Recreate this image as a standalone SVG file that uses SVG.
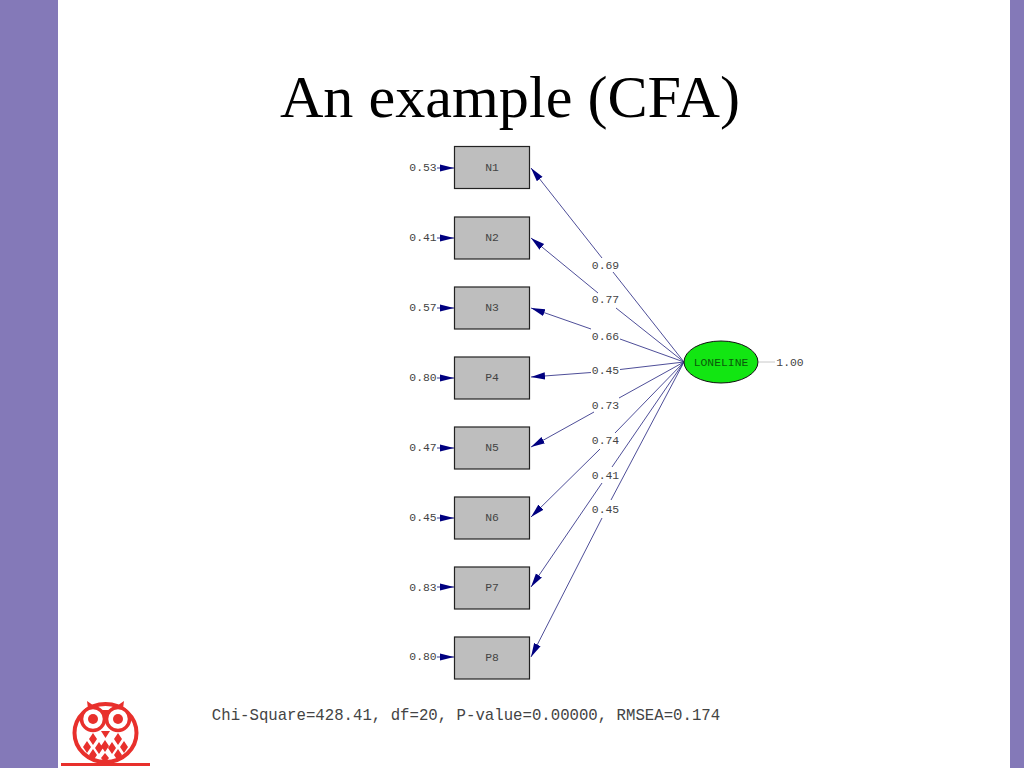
<svg xmlns="http://www.w3.org/2000/svg" width="1024" height="768" viewBox="0 0 1024 768">
<style>
.box{fill:#bebebe;stroke:#222;stroke-width:1.2}
.m{font-family:"Liberation Mono","DejaVu Sans Mono",monospace;font-size:11.4px;fill:#444;text-anchor:middle}
.c{fill:none;stroke:#3a3a8c;stroke-width:.9}
.e{fill:none;stroke:#3a3a8c;stroke-width:1}
.o{fill:none;stroke:#e8302c;stroke-width:4}
.r{fill:#e8302c}
</style>
<defs>
<marker id="a" markerUnits="userSpaceOnUse" markerWidth="15" markerHeight="10" refX="14" refY="5" orient="auto"><path d="M0 1.400L14 5L0 8.600Z" fill="#000080"/></marker>
</defs>
<rect width="1024" height="768" fill="#fff"/>
<rect id="bar-left" width="58" height="768" fill="#8479b8"/>
<rect id="bar-right" x="1010" width="14" height="768" fill="#8479b8"/>
<text id="title" x="510" y="117" text-anchor="middle" font-family="Liberation Serif,serif" font-size="60.200" fill="#000">An example (CFA)</text>
<g id="connectors">
<path class="c" d="M684 362L613 272"/><path class="c" d="M602 258L531 168" marker-end="url(#a)"/>
<path class="c" d="M684 362L616 308"/><path class="c" d="M598 293L531 238" marker-end="url(#a)"/>
<path class="c" d="M684 362L620 339"/><path class="c" d="M591 329L531 308" marker-end="url(#a)"/>
<path class="c" d="M684 362L620 369.500"/><path class="c" d="M591 372.500L531 377" marker-end="url(#a)"/>
<path class="c" d="M684 362L619 398"/><path class="c" d="M594 412L531 447" marker-end="url(#a)"/>
<path class="c" d="M684 362L615 433"/><path class="c" d="M600 449L531 517" marker-end="url(#a)"/>
<path class="c" d="M684 362L612 467"/><path class="c" d="M602 483L531 587" marker-end="url(#a)"/>
<path class="c" d="M684 362L611 500"/><path class="c" d="M602 518L531 657" marker-end="url(#a)"/>
<path class="e" d="M437 168H454" marker-end="url(#a)"/>
<path class="e" d="M437 238H454" marker-end="url(#a)"/>
<path class="e" d="M437 308H454" marker-end="url(#a)"/>
<path class="e" d="M437 378H454" marker-end="url(#a)"/>
<path class="e" d="M437 448H454" marker-end="url(#a)"/>
<path class="e" d="M437 518H454" marker-end="url(#a)"/>
<path class="e" d="M437 587H454" marker-end="url(#a)"/>
<path class="e" d="M437 657H454" marker-end="url(#a)"/>
<path d="M759 362H775" stroke="#c8c8c8" stroke-width="1" fill="none"/>
</g>
<g id="node-n1"><rect class="box" x="454.500" y="146.500" width="75" height="42"/><text class="m" x="492" y="171">N1</text><text class="m" x="423" y="171">0.53</text></g>
<g id="node-n2"><rect class="box" x="454.500" y="217" width="75" height="42"/><text class="m" x="492" y="241">N2</text><text class="m" x="423" y="241">0.41</text></g>
<g id="node-n3"><rect class="box" x="454.500" y="287" width="75" height="42"/><text class="m" x="492" y="311">N3</text><text class="m" x="423" y="311">0.57</text></g>
<g id="node-p4"><rect class="box" x="454.500" y="357" width="75" height="42"/><text class="m" x="492" y="381">P4</text><text class="m" x="423" y="381">0.80</text></g>
<g id="node-n5"><rect class="box" x="454.500" y="427" width="75" height="42"/><text class="m" x="492" y="451">N5</text><text class="m" x="423" y="451">0.47</text></g>
<g id="node-n6"><rect class="box" x="454.500" y="497" width="75" height="42"/><text class="m" x="492" y="521">N6</text><text class="m" x="423" y="521">0.45</text></g>
<g id="node-p7"><rect class="box" x="454.500" y="567" width="75" height="42"/><text class="m" x="492" y="591">P7</text><text class="m" x="423" y="591">0.83</text></g>
<g id="node-p8"><rect class="box" x="454.500" y="637" width="75" height="42"/><text class="m" x="492" y="661">P8</text><text class="m" x="423" y="660">0.80</text></g>
<g id="node-loneline"><ellipse cx="721" cy="362" rx="37" ry="21" fill="#12e612" stroke="#111" stroke-width="1"/><text class="m" x="721" y="365.500" style="fill:#0a5a0a">LONELINE</text><text class="m" x="790" y="366">1.00</text></g>
<g id="loadings">
<text class="m" x="605.500" y="269">0.69</text>
<text class="m" x="605.500" y="303">0.77</text>
<text class="m" x="605.500" y="340">0.66</text>
<text class="m" x="605.500" y="374">0.45</text>
<text class="m" x="605.500" y="409">0.73</text>
<text class="m" x="605.500" y="444">0.74</text>
<text class="m" x="605.500" y="479">0.41</text>
<text class="m" x="605.500" y="513">0.45</text>
</g>
<text id="fit" x="466" y="720" text-anchor="middle" font-family="Liberation Mono,monospace" font-size="15.700" fill="#444">Chi-Square=428.41, df=20, P-value=0.00000, RMSEA=0.174</text>
<g id="owl">
<path class="r" d="M61 763H150V766H61Z"/>
<ellipse class="o" cx="105.500" cy="733" rx="31" ry="29"/>
<path class="r" d="M87 701L100 710H111L124 701L122 716H89Z"/>
<circle cx="93" cy="719" r="11.500" fill="#fff" stroke="#e8302c" stroke-width="3.500"/>
<circle cx="118" cy="719" r="11.500" fill="#fff" stroke="#e8302c" stroke-width="3.500"/>
<circle class="r" cx="93" cy="719" r="5"/><circle class="r" cx="118" cy="719" r="5"/>
<path class="r" d="M101 731L105.500 738L110 731Z"/>
<path class="r" d="M93 733l4 6l-4 6l-4-6ZM105 740l4 6l-4 6l-4-6ZM118 733l4 6l-4 6l-4-6ZM87 741l4 6l-4 6l-4-6ZM99 742l4 6l-4 6l-4-6ZM112 742l4 6l-4 6l-4-6ZM124 741l4 6l-4 6l-4-6ZM93 749l4 6l-4 6l-4-6ZM105 753l4 5l-4 5l-4-5ZM118 749l4 6l-4 6l-4-6Z"/>
</g>
</svg>
